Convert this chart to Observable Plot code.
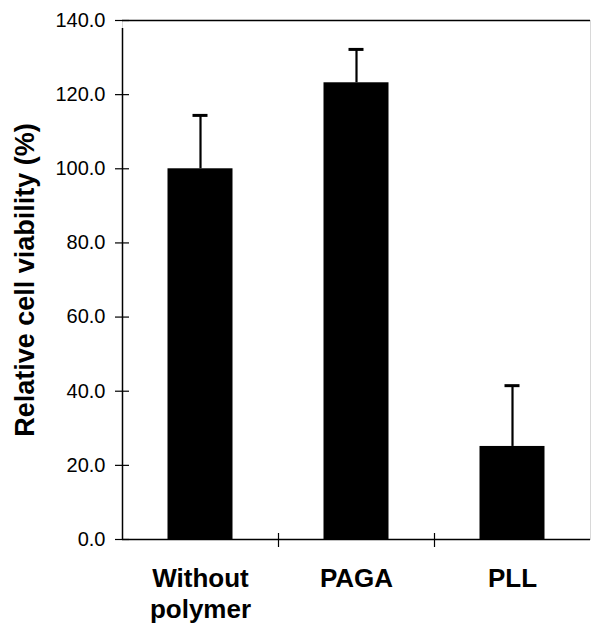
<!DOCTYPE html>
<html>
<head>
<meta charset="utf-8">
<script src="https://cdn.jsdelivr.net/npm/d3@7"></script>
<script src="https://cdn.jsdelivr.net/npm/@observablehq/plot@0.6"></script>
<style>
  html, body { margin: 0; padding: 0; background: #fff; }
  #chart svg { font-family: "Liberation Sans", Arial, sans-serif; display: block; }
</style>
</head>
<body>
<div id="chart"></div>
<script>
const categories = ["Without polymer", "PAGA", "PLL"];
const categoryLabels = ["Without\npolymer", "PAGA", "PLL"];
const viability = [100.0, 123.2, 25.1];
const errorUp = [14.4, 9.0, 16.4];
const yTicks = [0, 20, 40, 60, 80, 100, 120, 140];
const yTitle = "Relative cell viability (%)";

const data = categories.map((c, i) => ({cat: c, label: categoryLabels[i], v: viability[i], e: errorUp[i]}));

const W = 592, H = 626, mL = 122, mR = 2, mT = 20, mB = 87;
const bw = (W - mL - mR) / categories.length;
const barW = 65, capW = 15;

const chart = Plot.plot({
  width: W,
  height: H,
  marginLeft: mL,
  marginRight: mR,
  marginTop: mT,
  marginBottom: mB,
  style: {fontFamily: "Liberation Sans, Arial, sans-serif", background: "#fff", color: "#000"},
  x: {domain: categories, padding: 0, axis: null},
  y: {domain: [0, 140], axis: null},
  marks: [
    Plot.frame({stroke: "#d8d8d8"}),
    Plot.ruleY([0, 140], {stroke: "#000", strokeWidth: 1.5}),
    // left axis line
    Plot.ruleX([categories[0]], {x: d => d, y1: 0, y2: 140, dx: -bw / 2, stroke: "#000", strokeWidth: 1.5, insetBottom: -8}),
    // category separator ticks
    Plot.ruleX(categories.slice(1), {x: d => d, y1: 0, y2: 0, dx: -bw / 2, stroke: "#000", strokeWidth: 1.2, insetTop: -6, insetBottom: -8}),
    // y tick marks crossing the axis
    Plot.axisY({ticks: yTicks, tickSize: 14, dx: 7, text: null, label: null, stroke: "#000", strokeWidth: 1.2}),
    Plot.axisY({ticks: yTicks, tickSize: 0, tickPadding: 17, tickFormat: d => d.toFixed(1), fontSize: 20, fill: "#000", stroke: "#000", strokeWidth: 0.3, label: null}),
    Plot.barY(data, {x: "cat", y: "v", fill: "#000", insetLeft: (bw - barW) / 2, insetRight: (bw - barW) / 2}),
    Plot.ruleX(data, {x: "cat", y1: "v", y2: d => d.v + d.e, stroke: "#000", strokeWidth: 2.2}),
    Plot.tickY(data, {x: "cat", y: d => d.v + d.e, stroke: "#000", strokeWidth: 3, insetLeft: (bw - capW) / 2, insetRight: (bw - capW) / 2}),
    Plot.text(data, {x: "cat", y: 0, text: "label", lineAnchor: "top", dy: 26, fontSize: 26, fontWeight: "bold", lineHeight: 1.18, fill: "#000"}),
    Plot.text([yTitle], {frameAnchor: "left", textAnchor: "middle", lineAnchor: "middle", rotate: -90, dx: -97, fontSize: 27, fontWeight: "bold", fill: "#000"})
  ]
});
document.getElementById("chart").appendChild(chart);
</script>
</body>
</html>
